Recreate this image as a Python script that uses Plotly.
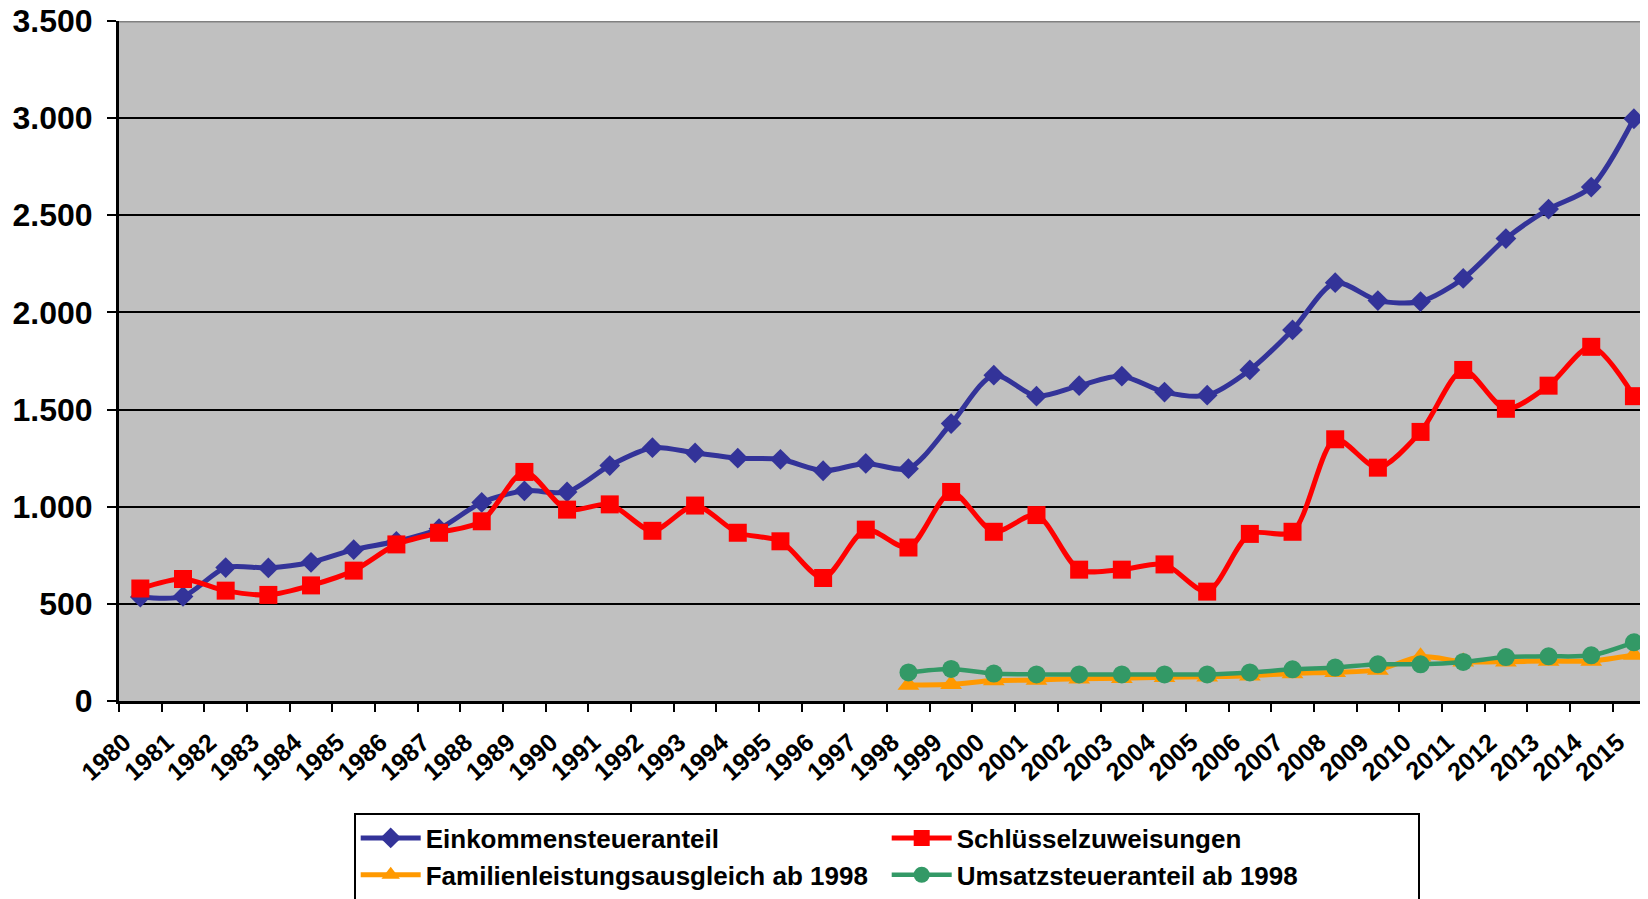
import plotly.graph_objects as go

years = [str(y) for y in range(1980, 2016)]

einkommen = [535, 538, 687, 685, 714, 779, 822, 887, 1022, 1082, 1076, 1212,
             1304, 1277, 1250, 1244, 1185, 1223, 1196, 1428, 1677, 1569, 1623,
             1672, 1590, 1574, 1704, 1910, 2153, 2061, 2056, 2175, 2380, 2532,
             2645, 2997]

schluessel = [579, 628, 568, 546, 595, 671, 806, 866, 925, 1179, 985, 1012,
              876, 1006, 866, 822, 633, 882, 790, 1076, 871, 957, 676, 676,
              703, 563, 860, 871, 1347, 1201, 1385, 1704, 1504, 1623, 1823,
              1569]

years_1998 = years[18:]
familien = [82, 86, 105, 108, 115, 117, 122, 125, 130, 142, 148, 160, 228,
            202, 202, 206, 206, 237]
umsatz = [147, 165, 141, 137, 137, 137, 137, 137, 147, 163, 172, 189, 189,
          201, 226, 230, 235, 302]

y_tick_values = [0, 500, 1000, 1500, 2000, 2500, 3000, 3500]
y_tick_labels = ["0", "500", "1.000", "1.500", "2.000", "2.500", "3.000", "3.500"]

FONT = "Liberation Sans, Arial, sans-serif"

fig = go.Figure()

series = [
    ("Einkommensteueranteil", years, einkommen, "#333399", "diamond", 16, 5),
    ("Schlüsselzuweisungen", years, schluessel, "#FF0000", "square", 18, 5),
    ("Familienleistungsausgleich ab 1998", years_1998, familien, "#FF9900", "triangle-up", 19, 5),
    ("Umsatzsteueranteil ab 1998", years_1998, umsatz, "#339966", "circle", 18, 4.5),
]

for name, xs, ys, color, symbol, size, lw in series:
    fig.add_trace(go.Scatter(
        x=xs, y=ys, name=name, mode="lines+markers",
        line=dict(color=color, width=lw, shape="spline", smoothing=0.8),
        marker=dict(color=color, symbol=symbol, size=size, line=dict(width=0)),
    ))

fig.update_layout(
    width=1640, height=891,
    margin=dict(l=111, r=0, t=13, b=198, autoexpand=False),
    paper_bgcolor="white",
    plot_bgcolor="#C0C0C0",
    font=dict(family=FONT, color="black"),
    showlegend=True,
    legend=dict(
        orientation="h",
        x=0.1535, xanchor="left",
        y=-0.164, yanchor="top",
        bgcolor="white",
        bordercolor="black",
        borderwidth=2,
        font=dict(family=FONT, size=26, color="black", weight="bold"),
        entrywidth=456,
        itemwidth=60,
        tracegroupgap=0,
    ),
    xaxis=dict(
        type="category",
        categoryorder="array",
        categoryarray=years,
        range=[-0.5, 35.33],
        tickson="boundaries",
        ticks="outside",
        ticklen=8,
        tickwidth=2,
        tickcolor="black",
        showline=True,
        linecolor="black",
        linewidth=3,
        showgrid=False,
        tickangle=-42,
        ticklabelshift=-16,
        ticklabelstandoff=14,
        automargin=False,
        tickfont=dict(family=FONT, size=25, color="black", weight="bold"),
        fixedrange=True,
    ),
    yaxis=dict(
        range=[0, 3500],
        tickmode="array",
        tickvals=y_tick_values,
        ticktext=y_tick_labels,
        ticks="outside",
        ticklen=9,
        tickwidth=2,
        tickcolor="black",
        showline=True,
        linecolor="black",
        linewidth=3,
        showgrid=True,
        gridcolor="black",
        gridwidth=2,
        zeroline=False,
        ticklabelstandoff=8,
        ticklabeloverflow="allow",
        automargin=False,
        tickfont=dict(family=FONT, size=32, color="black", weight="bold"),
        fixedrange=True,
    ),
)

fig.add_shape(type="line", xref="paper", yref="y", x0=0, x1=1, y0=3500, y1=3500,
              line=dict(color="#808080", width=3), layer="above")

fig.write_html("out.html")
